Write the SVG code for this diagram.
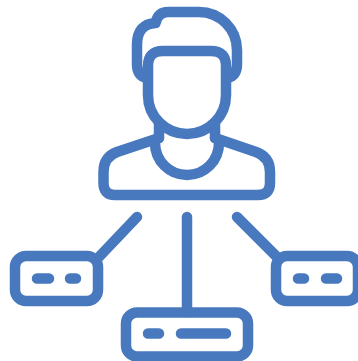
<svg xmlns="http://www.w3.org/2000/svg" width="358" height="361" viewBox="0 0 358 361">
<style>
.s{fill:none;stroke:#4879bf;stroke-width:10.5;stroke-linecap:round;stroke-linejoin:round}
</style>
<rect width="358" height="361" fill="#fff"/>
<g id="person" class="s">
<path d="M227 78Q237 76 237 64V50A38 38 0 0 0 199 12H168Q158 12 155.500 23Q137 24 137 45V64Q137 76 147 78"/>
<path d="M163 51H211Q226 51 226 66V95A39 39 0 0 1 148 95V66Q148 51 163 51Z"/>
<path d="M159 124V138M215 124V138"/>
<path d="M159 138L117 152Q103.500 157 103.500 172V183Q103.500 195 115 195H258Q270 195 270 183V172Q270 157 256 152L215 138"/>
<path d="M155 143A32 32 0 0 0 219 143"/>
</g>
<g id="connectors" class="s">
<path d="M137 217L98 258M187 217V312M237 217L276 256"/>
</g>
<g id="node-left" class="s">
<rect x="15" y="256" width="83" height="45" rx="11"/>
<path d="M37 278.500H49M70 278.500H76"/>
</g>
<g id="node-center" class="s">
<rect x="126" y="312.500" width="122" height="44" rx="11"/>
<path d="M148 333.500H159M181 333.500H226"/>
</g>
<g id="node-right" class="s">
<rect x="276" y="256" width="82" height="45" rx="11"/>
<path d="M298 278.500H304M326 278.500H337"/>
</g>
</svg>
